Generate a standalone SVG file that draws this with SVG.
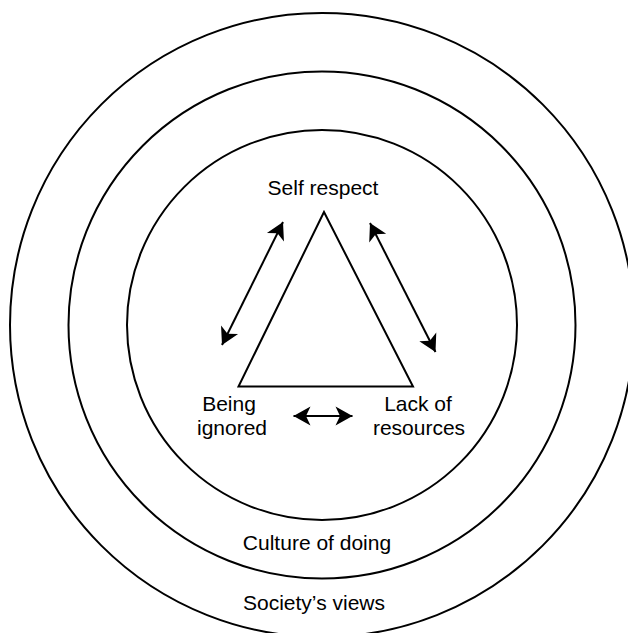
<svg xmlns="http://www.w3.org/2000/svg" width="628" height="633" viewBox="0 0 628 633">
<style>
.ring{fill:none;stroke:#000;stroke-width:2}
.tri{fill:#fff;stroke:#000;stroke-width:2;stroke-linejoin:miter}
.lbl{font-family:"Liberation Sans",Arial,sans-serif;font-size:21px;fill:#000;text-anchor:middle}
.conn{stroke:#000;stroke-width:2;fill:none;marker-start:url(#ah);marker-end:url(#ah)}
</style>
<defs>
<marker id="ah" markerUnits="userSpaceOnUse" viewBox="-18 -10 19 20" refX="0" refY="0" markerWidth="19" markerHeight="20" orient="auto-start-reverse">
<path d="M0,0 L-17,-9.5 L-12.5,0 L-17,9.5 Z" fill="#000"/>
</marker>
</defs>
<rect width="628" height="633" fill="#fff"/>
<g id="society">
<circle class="ring" cx="322" cy="325" r="312"/>
<text class="lbl" x="314" y="610">Society’s views</text>
</g>
<g id="culture">
<circle class="ring" cx="322" cy="325" r="253.5"/>
<text class="lbl" x="317" y="550">Culture of doing</text>
</g>
<g id="inner">
<circle class="ring" cx="322" cy="325" r="195"/>
</g>
<g id="triangle">
<polygon class="tri" points="324,212 238.5,386.5 413,386.5"/>
</g>
<g id="self-respect">
<text class="lbl" x="323" y="195">Self respect</text>
</g>
<g id="being-ignored">
<text class="lbl" x="229" y="411">Being</text>
<text class="lbl" x="232" y="435">ignored</text>
</g>
<g id="lack-of-resources">
<text class="lbl" x="418" y="411">Lack of</text>
<text class="lbl" x="419" y="435">resources</text>
</g>
<g id="connectors">
<line class="conn" x1="283" y1="222" x2="222" y2="345"/>
<line class="conn" x1="370" y1="223" x2="435.5" y2="352"/>
<line class="conn" x1="293.5" y1="416" x2="352.5" y2="416"/>
</g>
</svg>
